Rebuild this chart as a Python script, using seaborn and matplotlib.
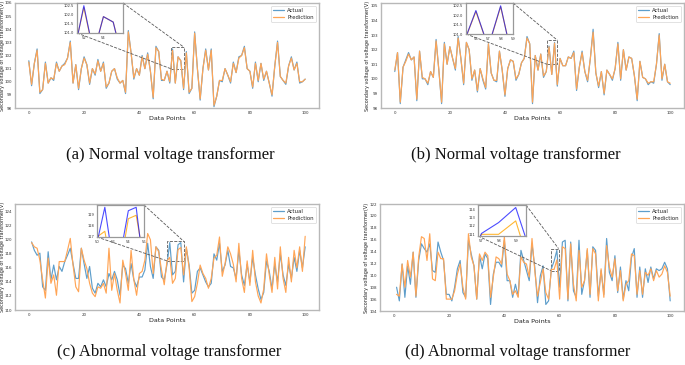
import numpy as np
import pandas as pd
import matplotlib
matplotlib.use("Agg")
import matplotlib.pyplot as plt
import seaborn as sns
from mpl_toolkits.axes_grid1.inset_locator import mark_inset

sns.set_theme(style="white")
plt.rcParams['font.family'] = ['DejaVu Sans']

# ---------------- data ----------------
x_a = list(range(0, 101))
actual_a = [101.6, 99.7, 101.4, 102.5, 99.1, 99.4, 101.5, 99.9, 100.3, 100.1,
            101.5, 100.8, 101.2, 101.4, 101.8, 103.1, 99.9, 101.3, 99.4, 101.0,
            101.9, 101.3, 99.8, 101.0, 100.5, 101.7, 100.8, 101.5, 99.5, 99.9,
            100.8, 101.0, 100.2, 99.9, 100.1, 99.1, 103.9, 102.2, 100.2, 101.0,
            100.5, 102.0, 101.0, 102.2, 100.8, 98.7, 102.7, 102.3, 100.1, 100.1,
            100.8, 99.9, 102.5, 99.9, 101.9, 101.6, 99.4, 102.3, 99.1, 99.5,
            103.8, 101.0, 98.6, 101.0, 102.5, 100.9, 102.5, 98.1, 98.9, 100.1,
            100.0, 101.0, 100.5, 99.9, 101.5, 100.7, 101.9, 102.0, 102.7, 101.0,
            100.8, 99.5, 101.5, 100.0, 101.4, 100.1, 100.8, 99.9, 98.9, 101.2,
            103.1, 100.4, 100.1, 99.8, 101.2, 101.9, 100.9, 101.5, 99.9, 100.0,
            100.2]
pred_a = [101.5, 99.8, 101.4, 102.4, 99.2, 99.4, 101.4, 99.9, 100.3, 100.2,
          101.4, 100.8, 101.2, 101.3, 101.8, 103.0, 99.9, 101.3, 99.5, 101.0,
          101.8, 101.3, 99.9, 101.0, 100.6, 101.6, 100.8, 101.4, 99.6, 99.9,
          100.8, 101.0, 100.3, 99.9, 100.1, 99.2, 103.8, 102.2, 100.3, 101.0,
          100.5, 101.9, 101.0, 102.1, 100.8, 98.8, 102.6, 102.3, 100.2, 100.1,
          100.8, 100.0, 102.4, 99.9, 101.9, 101.6, 99.5, 102.2, 99.2, 99.5,
          103.7, 101.0, 98.7, 101.0, 102.4, 100.9, 102.4, 98.2, 98.9, 100.1,
          100.1, 101.0, 100.5, 100.0, 101.4, 100.7, 101.8, 102.0, 102.6, 101.0,
          100.8, 99.6, 101.4, 100.1, 101.4, 100.2, 100.8, 99.9, 99.0, 101.2,
          103.0, 100.4, 100.1, 99.9, 101.2, 101.8, 100.9, 101.4, 100.0, 100.0,
          100.2]

x_b = list(range(0, 101))
actual_b = [100.5, 101.8, 98.3, 100.8, 101.3, 101.8, 101.3, 101.5, 98.5, 101.9,
            100.0, 100.0, 99.6, 100.5, 100.1, 102.7, 100.6, 98.3, 102.5, 101.0,
            102.2, 101.4, 100.6, 102.9, 101.4, 99.6, 102.5, 102.0, 99.9, 100.6,
            99.1, 100.7, 99.9, 99.3, 102.4, 100.4, 99.9, 99.8, 101.9, 100.6,
            98.8, 100.7, 101.3, 101.2, 99.9, 100.3, 101.1, 101.4, 102.9, 102.4,
            98.3, 101.6, 100.6, 101.7, 100.1, 100.5, 102.25, 100.3, 102.5, 99.5,
            101.4, 100.9, 100.9, 101.5, 101.4, 101.9, 99.2, 100.8, 101.9, 100.5,
            99.8, 101.4, 103.4, 100.4, 99.4, 100.5, 98.9, 100.6, 100.3, 99.9,
            100.7, 102.5, 99.9, 102.0, 100.6, 101.5, 101.4, 100.2, 98.5, 101.2,
            100.1, 100.0, 99.6, 99.8, 99.7, 101.0, 103.1, 99.9, 101.0, 99.8,
            99.6]
pred_b = [100.6, 101.8, 98.4, 100.8, 101.2, 101.7, 101.3, 101.5, 98.6, 101.9,
          100.1, 100.0, 99.7, 100.5, 100.1, 102.6, 100.6, 98.4, 102.4, 101.0,
          102.2, 101.4, 100.7, 102.8, 101.4, 99.7, 102.5, 102.0, 100.0, 100.6,
          99.2, 100.7, 100.0, 99.4, 102.4, 100.4, 99.9, 99.9, 101.9, 100.6,
          98.9, 100.7, 101.3, 101.2, 100.0, 100.3, 101.1, 101.4, 102.8, 102.4,
          98.4, 101.6, 100.6, 101.7, 100.2, 100.5, 102.2, 100.3, 102.45, 99.6,
          101.4, 100.9, 100.9, 101.5, 101.4, 101.8, 99.3, 100.8, 101.8, 100.5,
          99.9, 101.4, 103.2, 100.4, 99.5, 100.5, 99.0, 100.6, 100.3, 100.0,
          100.7, 102.4, 100.0, 102.0, 100.6, 101.5, 101.4, 100.2, 98.6, 101.2,
          100.1, 100.0, 99.7, 99.8, 99.8, 101.0, 103.0, 100.0, 101.0, 99.8,
          99.7]

x_c = list(range(1, 101))
actual_c = [119.7, 118.5, 117.8, 118.1, 113.3, 112.8, 118.3, 114.3, 116.4, 114.3,
            116.2, 115.5, 116.9, 117.8, 118.8, 116.6, 114.5, 114.5, 118.8, 116.6,
            114.5, 116.2, 113.1, 112.4, 113.8, 113.3, 114.3, 113.3, 115.2, 114.3,
            115.5, 114.3, 112.1, 116.4, 115.9, 113.8, 116.6, 114.3, 113.3, 114.7,
            114.7, 115.7, 119.5, 116.2, 114.5, 119.0, 118.5, 114.7, 114.3, 116.5,
            119.6, 115.0, 115.5, 119.3, 119.6, 114.0, 118.8, 116.4, 112.4, 112.8,
            115.5, 116.0, 115.0, 114.0, 113.3, 113.8, 118.0, 117.1, 119.5, 115.5,
            116.4, 118.5, 116.2, 116.0, 114.5, 118.5, 115.0, 113.5, 116.5, 114.0,
            117.5, 115.0, 113.0, 111.5, 112.5, 117.0, 115.5, 113.0, 116.5, 114.0,
            118.0, 115.0, 113.5, 116.5, 114.5, 117.5, 115.5, 118.5, 116.0, 119.0]
pred_c = [119.6, 119.0, 118.8, 117.1, 114.3, 111.7, 117.4, 113.8, 115.0, 112.1,
          116.9, 116.9, 116.9, 118.5, 120.2, 116.4, 113.3, 112.6, 118.8, 117.1,
          115.9, 113.8, 112.4, 111.9, 113.3, 113.1, 113.8, 112.4, 118.8, 112.8,
          115.2, 112.8, 111.0, 117.1, 115.2, 112.8, 118.5, 114.3, 112.1, 115.2,
          115.5, 117.1, 120.9, 120.0, 115.2, 119.0, 118.3, 115.7, 113.6, 117.0,
          117.5, 113.8, 114.5, 118.6, 118.9, 115.0, 119.0, 116.0, 111.2, 111.9,
          113.8, 116.4, 115.2, 114.5, 113.1, 114.5, 117.4, 117.8, 120.4, 114.8,
          116.6, 119.0, 118.0, 116.5, 114.0, 119.5, 114.5, 112.5, 117.0, 113.5,
          118.5, 114.0, 112.0, 111.0, 113.0, 118.0, 115.0, 112.5, 117.5, 113.0,
          119.0, 114.5, 112.5, 117.5, 114.0, 118.5, 116.0, 119.0, 115.5, 120.5]

x_d = list(range(1, 101))
actual_d = [108.0, 105.7, 111.9, 106.3, 111.6, 108.5, 113.9, 106.3, 112.5, 115.3,
            114.5, 113.9, 115.3, 110.8, 110.5, 115.6, 113.9, 112.5, 106.8, 106.8,
            105.7, 108.0, 111.1, 112.5, 107.1, 106.3, 115.9, 113.6, 111.6, 106.0,
            113.3, 111.1, 113.6, 112.8, 105.1, 110.2, 112.2, 112.2, 111.4, 115.9,
            109.1, 109.1, 106.3, 108.5, 106.5, 114.2, 112.5, 110.8, 109.1, 115.3,
            111.4, 105.4, 109.9, 111.6, 105.1, 105.7, 111.1, 112.4, 114.2, 108.0,
            115.6, 115.9, 105.7, 115.6, 107.4, 106.3, 115.9, 106.8, 109.1, 114.2,
            106.3, 114.8, 114.2, 106.5, 110.8, 106.8, 116.2, 110.5, 109.1, 113.3,
            107.1, 111.4, 106.0, 109.1, 107.4, 113.0, 114.5, 106.3, 111.4, 106.3,
            111.1, 108.8, 111.4, 109.4, 111.1, 110.8, 111.1, 112.2, 111.1, 105.7]
pred_d = [106.8, 106.5, 111.9, 108.0, 112.5, 109.7, 113.9, 106.5, 113.1, 116.5,
          116.2, 112.5, 117.0, 109.4, 109.1, 113.9, 112.8, 112.8, 106.0, 106.0,
          106.0, 107.4, 110.2, 111.9, 108.0, 106.0, 117.0, 113.1, 111.6, 106.0,
          113.6, 112.5, 113.9, 113.3, 106.3, 109.7, 113.1, 112.8, 111.9, 116.5,
          110.2, 109.1, 106.8, 107.4, 106.3, 113.1, 112.2, 111.9, 109.7, 116.2,
          110.8, 106.5, 108.8, 111.1, 107.1, 106.0, 111.0, 111.0, 112.6, 106.0,
          114.8, 114.5, 106.0, 115.3, 108.5, 105.7, 114.2, 108.0, 109.1, 114.5,
          106.8, 114.5, 113.6, 105.7, 111.1, 106.3, 115.0, 111.4, 109.7, 112.8,
          107.4, 110.8, 105.7, 108.5, 109.1, 113.6, 113.3, 106.8, 110.8, 106.8,
          110.5, 110.0, 111.1, 109.1, 110.8, 109.7, 110.2, 111.6, 110.5, 106.5]

captions = ["(a) Normal voltage transformer", "(b) Normal voltage transformer",
            "(c) Abnormal voltage transformer", "(d) Abnormal voltage transformer"]

# ---------------- layout ----------------
W, H = 685, 365
fig = plt.figure(figsize=(W / 100, H / 100), dpi=100)

panels = [
    dict(x=x_a, act=actual_a, pre=pred_a, box=(15, 3, 319, 108), ylim=(98, 106),
         yticks=range(98, 107), ins=(77, 3, 123, 33), ixlim=(51.3, 56), iylim=(101.0, 102.65),
         ixt=[52, 54], iyt=[101.0, 101.5, 102.0, 102.5], ifmt="%.1f", cap=(170, 155), ylx=4.6),
    dict(x=x_b, act=actual_b, pre=pred_b, box=(381, 3, 684, 108), ylim=(98, 105.2),
         yticks=range(98, 106), ins=(466, 3, 513, 34), ixlim=(55.2, 59), iylim=(101.0, 102.65),
         ixt=[56, 57, 58, 59], iyt=[101.0, 101.5, 102.0, 102.5], ifmt="%.1f", cap=(516, 155), ylx=370),
    dict(x=x_c, act=actual_c, pre=pred_c, box=(15, 204, 319, 310), ylim=(110, 125.1),
         yticks=range(110, 125, 2), ins=(97, 205, 144, 237), ixlim=(50, 56), iylim=(117, 119.8),
         ixt=[50, 52, 54, 56], iyt=[117, 118, 119], ifmt="%d", cap=(169, 352), ylx=4.6),
    dict(x=x_d, act=actual_d, pre=pred_d, box=(380, 204, 684, 311), ylim=(104, 122),
         yticks=range(104, 123, 2), ins=(478, 205, 526, 236), ixlim=(56.8, 59.6), iylim=(110.8, 114.5),
         ixt=[57, 58, 59], iyt=[111, 112, 113, 114], ifmt="%d", cap=(518, 352), ylx=369),
]

blue_c = "#5e9ecb"
orange_c = "#ffa556"
spine_c = "#b8b8b8"
for i, p in enumerate(panels):
    l, t, r, b = p["box"]
    ax = fig.add_axes([l / W, 1 - b / H, (r - l) / W, (b - t) / H])
    df = pd.DataFrame({"x": p["x"], "Actual": p["act"], "Prediction": p["pre"]})
    sns.lineplot(data=df, x="x", y="Actual", ax=ax, color=blue_c, lw=0.85, label="Actual")
    sns.lineplot(data=df, x="x", y="Prediction", ax=ax, color=orange_c, lw=0.85, label="Prediction")
    ax.set_xlim(-5, 105)
    ax.set_ylim(*p["ylim"])
    ax.set_yticks(list(p["yticks"]))
    ax.set_xticks([0, 20, 40, 60, 80, 100])
    ax.tick_params(labelsize=2.9, length=1.2, width=0.4, color="#444444", pad=1.0, labelcolor="#333333")
    ax.set_xlabel("Data Points", fontsize=4.6, labelpad=1, color="#222222")
    ax.set_ylabel("Secondary voltage of voltage transformer(V)", fontsize=3.5, color="#222222")
    ax.yaxis.set_label_coords((p["ylx"] - l) / (r - l), 0.5)
    for s in ax.spines.values():
        s.set_color(spine_c)
        s.set_linewidth(1.0)
    leg = ax.legend(loc="upper right", fontsize=3.9, frameon=True, handlelength=2.0, borderpad=0.45,
                    labelspacing=0.3, handletextpad=0.6)
    leg.get_frame().set_edgecolor("#cccccc")
    leg.get_frame().set_linewidth(0.5)
    for line in leg.get_lines():
        line.set_linewidth(0.9)

    # inset
    il, it, ir, ib = p["ins"]
    bounds = [(il - l) / (r - l), (b - ib) / (b - t), (ir - il) / (r - l), (ib - it) / (b - t)]
    axins = ax.inset_axes(bounds)
    sns.lineplot(data=df, x="x", y="Prediction", ax=axins, color="orange", lw=0.8, alpha=0.8)
    sns.lineplot(data=df, x="x", y="Actual", ax=axins, color="blue", lw=0.8, alpha=0.7)
    axins.set_xlim(*p["ixlim"])
    axins.set_ylim(*p["iylim"])
    axins.set_xticks(p["ixt"])
    axins.set_yticks(p["iyt"])
    axins.yaxis.set_major_formatter(matplotlib.ticker.FormatStrFormatter(p["ifmt"]))
    axins.set_xlabel("")
    axins.set_ylabel("")
    axins.tick_params(labelsize=2.6, length=1, width=0.3, pad=1, labelcolor="#333333")
    for s in axins.spines.values():
        s.set_color("#999999")
        s.set_linewidth(0.9)
    axins.set_facecolor("white")
    mark_inset(ax, axins, loc1=1, loc2=3, fc="none", ec="0.35", ls="--", lw=0.6)

    cx, cy = p["cap"]
    fig.text(cx / W, 1 - cy / H, captions[i], ha="center", va="center", fontsize=12,
             family=["Liberation Serif", "DejaVu Serif"], color="#111111")

fig.savefig("out.png", dpi=100)
